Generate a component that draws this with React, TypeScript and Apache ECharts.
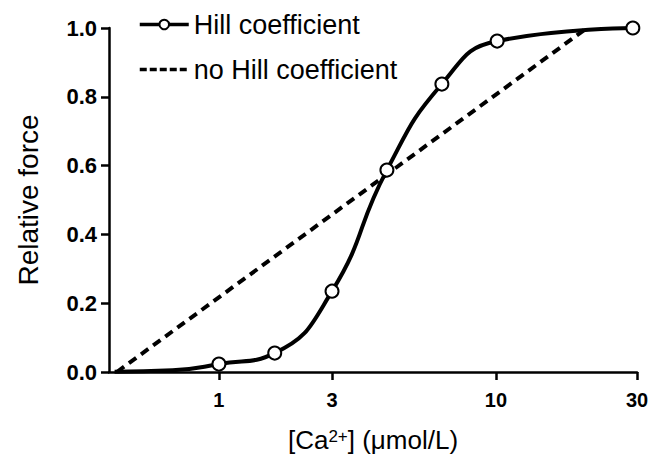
import React, { useEffect, useRef } from "react";
import * as echarts from "echarts";

// Hill-fit data points (markers): [Ca2+] in µmol/L and relative force
const hillX = [1.0, 1.59, 2.56, 4.04, 6.38, 10.1, 31.2];
const hillY = [0.023, 0.055, 0.235, 0.587, 0.837, 0.962, 1.0];
// Extra points read along the fitted curve tail (no marker)
const curveX = [0.42, 0.68];
const curveY = [0.001, 0.005];
// Straight (no Hill coefficient) relation
const linearX = [0.428, 21.3];
const linearY = [0.0, 1.0];
// Axis ticks
const xTickValues = [1, 2.56, 10, 32.3];
const xTickLabels = ["1", "3", "10", "30"];
const yTicks = [0, 0.2, 0.4, 0.6, 0.8, 1.0];

const FONT = "'Liberation Sans', Arial, Helvetica, sans-serif";

export default function App() {
  const ref = useRef<HTMLDivElement>(null);
  useEffect(() => {
    if (!ref.current) return;
    const chart = echarts.init(ref.current, null, { renderer: "svg" });

    const hillData: any[] = [];
    hillX.forEach((x, i) => hillData.push({ value: [x, hillY[i]] }));
    curveX.forEach((x, i) =>
      hillData.push({ value: [x, curveY[i]], symbol: "none" })
    );
    hillData.sort((a, b) => a.value[0] - b.value[0]);

    const linearData = linearX.map((x, i) => [x, linearY[i]]);

    chart.setOption({
      animation: false,
      backgroundColor: "#ffffff",
      textStyle: { fontFamily: FONT },
      grid: {
        left: 109,
        right: 23,
        top: 28,
        bottom: 82,
        containLabel: false,
        outerBoundsMode: "none",
      },
      legend: {
        orient: "vertical",
        left: 138,
        top: 11,
        padding: 0,
        itemWidth: 49,
        itemHeight: 12,
        itemGap: 18,
        textStyle: { fontFamily: FONT, fontSize: 27, color: "#000" },
        data: [
          {
            name: "Hill coefficient",
            lineStyle: { width: 3.5, color: "#000" },
          },
          {
            name: "no Hill coefficient",
            itemStyle: { opacity: 0 },
            lineStyle: { width: 3.5, color: "#000", type: [7, 3] },
          },
        ],
      },
      xAxis: {
        type: "log",
        logBase: 10,
        min: 0.401,
        max: 32.3,
        name: "[Ca{sup|2+}] (μmol/L)",
        nameLocation: "middle",
        nameGap: 68,
        nameTextStyle: {
          fontFamily: FONT,
          fontSize: 26,
          lineHeight: 24,
          color: "#000",
          verticalAlign: "middle",
          rich: {
            sup: {
              fontFamily: FONT,
              fontSize: 17,
              lineHeight: 24,
              color: "#000",
              verticalAlign: "top",
              padding: [0, 0, 8, 0],
            },
          },
        },
        axisLine: { show: true, lineStyle: { color: "#000", width: 2.5 } },
        axisTick: {
          show: true,
          length: 8,
          lineStyle: { color: "#000", width: 2.5 },
          customValues: xTickValues,
        },
        axisLabel: {
          show: true,
          customValues: xTickValues,
          margin: 18,
          fontFamily: FONT,
          fontSize: 20,
          fontWeight: "bold",
          color: "#000",
          formatter: (v: number) => {
            let best = 0;
            xTickValues.forEach((t, i) => {
              if (Math.abs(Math.log(t) - Math.log(v)) < Math.abs(Math.log(xTickValues[best]) - Math.log(v))) best = i;
            });
            return xTickLabels[best];
          },
        },
        splitLine: { show: false },
        minorTick: { show: false },
      },
      yAxis: {
        type: "value",
        min: yTicks[0],
        max: yTicks[yTicks.length - 1],
        interval: 0.2,
        name: "Relative force",
        nameLocation: "middle",
        nameGap: 67,
        nameTextStyle: { fontFamily: FONT, fontSize: 28, color: "#000" },
        axisLine: { show: true, lineStyle: { color: "#000", width: 2.5 } },
        axisTick: { show: true, length: 8, lineStyle: { color: "#000", width: 2.5 } },
        axisLabel: {
          margin: 12,
          fontFamily: FONT,
          fontSize: 22,
          fontWeight: "bold",
          color: "#000",
          formatter: (v: number) => v.toFixed(1),
        },
        splitLine: { show: false },
      },
      series: [
        {
          name: "no Hill coefficient",
          type: "line",
          data: linearData,
          symbol: "none",
          lineStyle: { color: "#000", width: 4, type: [9, 6] },
          itemStyle: { color: "#000" },
          z: 2,
        },
        {
          name: "Hill coefficient",
          type: "line",
          data: hillData,
          smooth: 0.5,
          symbol: "circle",
          symbolSize: 13,
          showAllSymbol: true,
          lineStyle: { color: "#000", width: 4 },
          itemStyle: { color: "#fff", borderColor: "#000", borderWidth: 2 },
          z: 3,
        },
      ],
    });
    return () => chart.dispose();
  }, []);
  return (
    <div
      ref={ref}
      style={{ position: "fixed", left: 0, top: 0, width: 660, height: 454 }}
    />
  );
}
